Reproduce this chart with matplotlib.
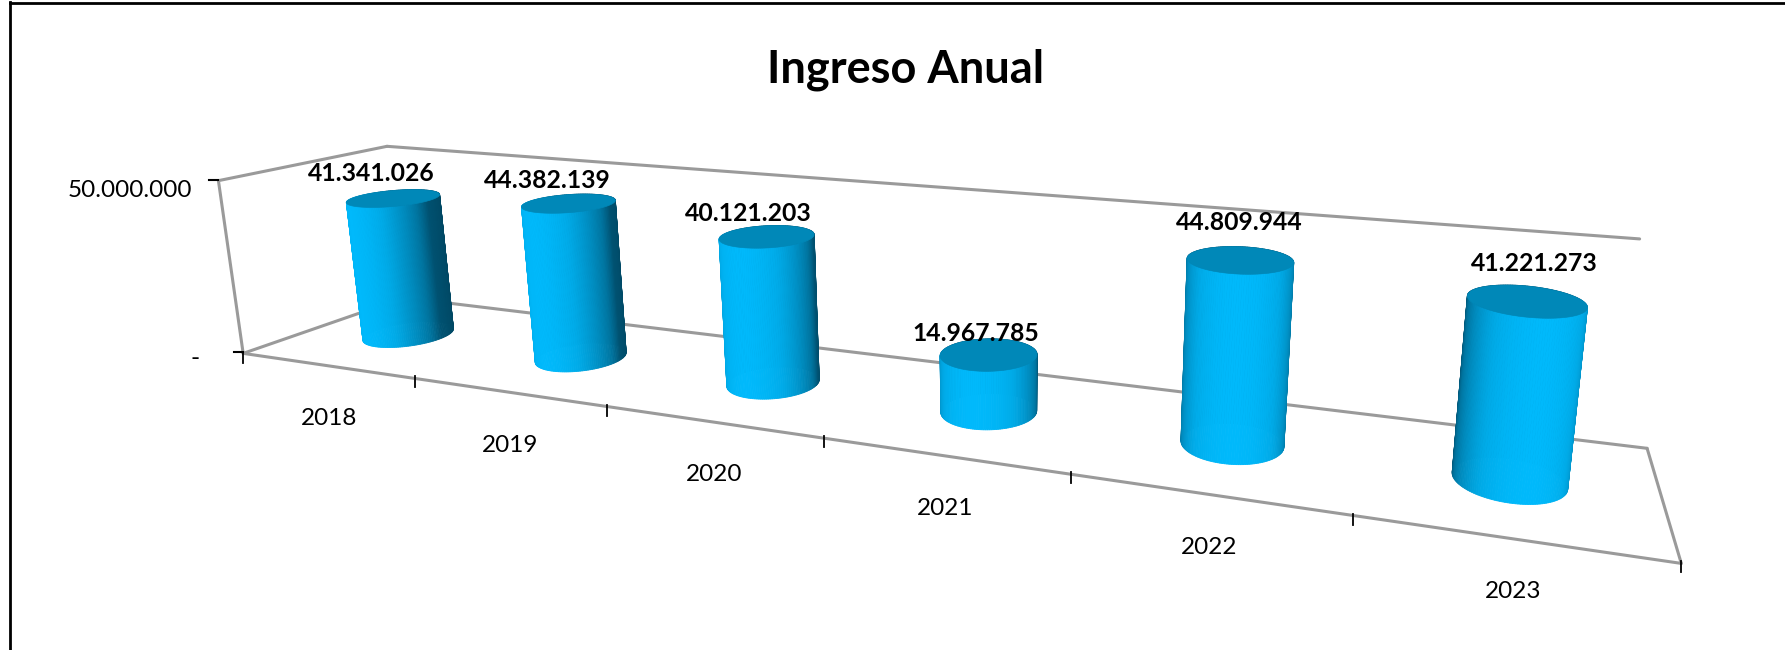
import numpy as np
import matplotlib
matplotlib.use("Agg")
from matplotlib import pyplot as plt
from matplotlib.patches import Polygon
from matplotlib.colors import to_rgb

# data
years = ['2018', '2019', '2020', '2021', '2022', '2023']
ingresos = [41341026, 44382139, 40121203, 14967785, 44809944, 41221273]
y_max = 50000000
y_tick_labels = ['-', '50.000.000']
titulo = 'Ingreso Anual'

plt.rcParams['font.family'] = ['Lato', 'DejaVu Sans']

W, H = 1785, 650
fig = plt.figure(figsize=(W / 100, H / 100), dpi=100)
ax = fig.add_axes([0, 0, 1, 1])
ax.set_xlim(0, W)
ax.set_ylim(H, 0)
ax.axis('off')

# corners of the 3d box and the front ticks on the page -> (category, value fraction, depth)
S = 1785 / 1568
world = np.array([[0, 0, 0], [6, 0, 0], [6, 0, 1], [0, 1, 0], [0, 1, 1], [6, 1, 1],
                  [1, 0, 0], [2, 0, 0], [3, 0, 0], [4, 0, 0], [5, 0, 0]], float)
page = np.array([[215, 312], [1478, 493], [1447, 393], [192, 158], [340, 127], [1469, 215],
                 [363, 333], [533, 358], [723, 385], [940, 416], [1189, 452]], float) * S

A = []
b = []
for (a1, a2, a3), (u, v) in zip(world, page):
    A.append([a1, a2, a3, 1, 0, 0, 0, 0, -u * a1, -u * a2, -u * a3])
    A.append([0, 0, 0, 0, a1, a2, a3, 1, -v * a1, -v * a2, -v * a3])
    b += [u, v]
P = np.append(np.linalg.lstsq(np.array(A), np.array(b), rcond=None)[0], 1).reshape(3, 4)


def proj(x, y, z):
    x, y, z = np.broadcast_arrays(x, y, z)
    q = P @ np.array([x, y, z, np.ones_like(x)], dtype=float)
    return q[0] / q[2], q[1] / q[2]


def line(p0, p1, color='#9a9a9a', lw=2.2, z=1):
    xs, ys = proj(np.array([p0[0], p1[0]]), np.array([p0[1], p1[1]]), np.array([p0[2], p1[2]]))
    ax.plot(xs, ys, color=color, lw=lw, zorder=z, solid_capstyle='round')


# walls and floor
line((0, 0, 0), (6, 0, 0))
line((6, 0, 0), (6, 0, 1))
line((6, 0, 1), (0, 0, 1))
line((0, 0, 1), (0, 0, 0))
line((0, 0, 0), (0, 1, 0))
line((0, 1, 0), (0, 1, 1))
line((0, 1, 1), (5.89, 1, 1))

# ticks
for i in range(1, 7):
    px, py = proj(i, 0, 0)
    ax.plot([px, px], [py - 2, py + 9], color='black', lw=1.3, zorder=2)
for frac in [0, 1]:
    px, py = proj(0, frac, 0)
    ax.plot([px - 9, px], [py - 1, py - 1], color='black', lw=1.5, zorder=2)
px, py = proj(0, 0, 0)
ax.plot([px, px], [py, py + 10], color='black', lw=1.3, zorder=2)

dark = np.array(to_rgb('#00445f'))
bright = np.array(to_rgb('#00b9fb'))
cap_col = '#0088b8'
r_x, r_z = 0.195, 0.21

# label offset from the top of each cylinder, as seen on the page
label_dx = [-20, -19, -16, -11, -1, 7]
label_dy = [-22, -20, -20, -18, -33, -33]

for i, val in enumerate(ingresos):
    cx = i + 0.5
    cz = 0.5
    h = val / y_max
    th = np.linspace(0, 2 * np.pi, 145)
    gx = cx + r_x * np.cos(th)
    gz = cz + r_z * np.sin(th)
    bx, by = proj(gx, 0, gz)
    tx, ty = proj(gx, h, gz)
    # side of the cylinder made from narrow strips, back strips get covered by the front ones
    lv = np.array([(cx - 3) * 0.12, -1.0])
    lv = lv / np.hypot(*lv)
    order = np.argsort(np.sin(th[:-1]))[::-1]
    for j in order:
        tm = (th[j] + th[j + 1]) / 2
        d = np.cos(tm) * lv[0] + np.sin(tm) * lv[1]
        t = np.interp(d, [-1, -0.3, 0, 0.3, 0.7, 1], [0, 0.12, 0.42, 0.62, 0.88, 1])
        col = dark + (bright - dark) * t
        ax.add_patch(Polygon([(bx[j], by[j]), (bx[j + 1], by[j + 1]), (tx[j + 1], ty[j + 1]), (tx[j], ty[j])],
                             facecolor=col, edgecolor=col, lw=0.6, zorder=3 + i))
    ax.add_patch(Polygon(np.column_stack([tx, ty]), facecolor=cap_col, edgecolor=cap_col, lw=0.5, zorder=3 + i))

    lx, ly = proj(cx, h, cz)
    ax.text(lx + label_dx[i] * S, ly + label_dy[i] * S, f'{val:,}'.replace(',', '.'), ha='center', va='center',
            fontsize=17.8, fontweight='bold', color='black', zorder=20)
    # category label below front edge
    ex, ey = proj(cx, 0, 0)
    ax.text(ex + 2, ey + 53, years[i], ha='center', va='center', fontsize=17.5, color='black', zorder=20)

px, py = proj(0, 0, 0)
ax.text(px - 48, py + 5, y_tick_labels[0], ha='center', va='center', fontsize=18, color='black')
px, py = proj(0, 1, 0)
ax.text(px - 26, py + 10, y_tick_labels[1], ha='right', va='center', fontsize=17.5, color='black')

ax.text(906, 70, titulo, ha='center', va='center', fontsize=32.5, fontweight='bold', color='black')

# outer frame
ax.plot([10, 10], [H, 2], color='black', lw=2)
ax.plot([10, W], [3, 3], color='black', lw=2)

fig.savefig('out.png', dpi=100)
